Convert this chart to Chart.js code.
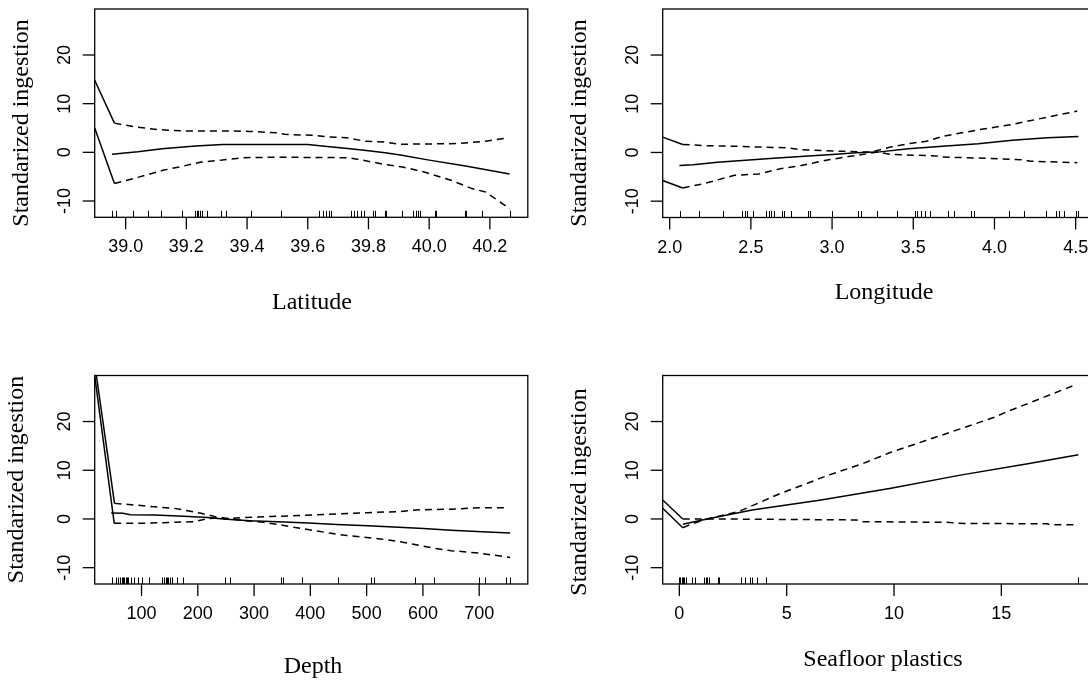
<!DOCTYPE html>
<html>
<head>
<meta charset="utf-8">
<title>GAM partial effects</title>
<script src="https://cdn.jsdelivr.net/npm/chart.js@4.4.1/dist/chart.umd.min.js"></script>
<style>
  html, body { margin: 0; padding: 0; background: #fff; overflow: hidden; }
  #page { position: relative; width: 1088px; height: 684px; overflow: hidden; background: #fff; }
  canvas { position: absolute; }
</style>
</head>
<body>
<div id="page">
  <canvas id="latCanvas" width="544" height="342" style="left:0px;top:0px"></canvas>
  <canvas id="lonCanvas" width="560" height="342" style="left:544px;top:0px"></canvas>
  <canvas id="depCanvas" width="544" height="342" style="left:0px;top:342px"></canvas>
  <canvas id="sfCanvas" width="560" height="342" style="left:544px;top:342px"></canvas>
</div>
<script>
// shared y axis
var yTicks = [-10, 0, 10, 20];
var yTickLabels = ['-10', '0', '10', '20'];
var yTitle = 'Standarized ingestion';

// Latitude
var latTicks = [39.0, 39.2, 39.4, 39.6, 39.8, 40.0, 40.2];
var latTickLabels = ['39.0', '39.2', '39.4', '39.6', '39.8', '40.0', '40.2'];
var latFitX = [38.955, 39.04, 39.12, 39.23, 39.32, 39.60, 39.68, 39.74, 39.80, 39.855, 39.91, 40.0, 40.12, 40.265];
var latFitY = [-0.4, 0.1, 0.75, 1.3, 1.6, 1.6, 1.1, 0.75, 0.3, -0.1, -0.6, -1.6, -2.8, -4.45];
var latUpX = [38.898, 38.963, 39.032, 39.112, 39.192, 39.318, 39.409, 39.50, 39.523, 39.615, 39.672, 39.729, 39.786, 39.855, 39.90, 40.095, 40.186, 40.262];
var latUpY = [14.8, 6.0, 5.2, 4.65, 4.4, 4.4, 4.3, 4.0, 3.7, 3.5, 3.15, 3.0, 2.3, 2.1, 1.65, 1.8, 2.3, 3.0];
var latLoX = [38.898, 38.963, 39.043, 39.123, 39.192, 39.249, 39.318, 39.386, 39.50, 39.729, 39.763, 39.821, 39.855, 39.912, 39.981, 40.072, 40.141, 40.186, 40.266];
var latLoY = [5.0, -6.4, -5.1, -3.7, -2.8, -2.0, -1.6, -1.1, -1.0, -1.1, -1.4, -2.1, -2.5, -3.0, -4.0, -5.75, -7.45, -8.15, -11.6];
var latRug = [38.954, 38.967, 39.025, 39.072, 39.115, 39.186, 39.230, 39.234, 39.240, 39.246, 39.251, 39.269, 39.315, 39.329, 39.413, 39.512, 39.638, 39.649, 39.661, 39.670, 39.678, 39.743, 39.752, 39.763, 39.777, 39.786, 39.815, 39.821, 39.855, 39.858, 39.912, 39.946, 39.958, 39.963, 39.971, 40.018, 40.024, 40.118, 40.123, 40.175, 40.266];

// Longitude
var lonTicks = [2.0, 2.5, 3.0, 3.5, 4.0, 4.5];
var lonTickLabels = ['2.0', '2.5', '3.0', '3.5', '4.0', '4.5'];
var lonFitX = [2.06, 2.145, 2.295, 2.51, 2.64, 2.83, 3.0, 3.15, 3.28, 3.47, 3.68, 3.90, 4.11, 4.325, 4.517];
var lonFitY = [-2.67, -2.5, -2.0, -1.5, -1.2, -0.8, -0.4, -0.07, 0.07, 0.75, 1.3, 1.8, 2.5, 3.0, 3.3];
var lonUpX = [1.957, 2.08, 2.21, 2.42, 2.72, 2.81, 3.04, 3.235, 3.36, 3.49, 3.58, 3.68, 3.90, 4.11, 4.325, 4.51];
var lonUpY = [3.15, 1.65, 1.4, 1.25, 0.95, 0.55, 0.27, 0.07, 1.1, 1.9, 2.3, 3.3, 4.65, 5.75, 7.25, 8.5];
var lonLoX = [1.957, 2.08, 2.21, 2.40, 2.55, 2.68, 2.81, 2.98, 3.11, 3.28, 3.36, 3.64, 3.68, 3.90, 4.175, 4.22, 4.51];
var lonLoY = [-5.75, -7.3, -6.4, -4.7, -4.4, -3.35, -2.67, -1.5, -0.8, 0.07, -0.4, -0.7, -0.95, -1.15, -1.5, -1.8, -2.1];
var lonRug = [2.062, 2.182, 2.331, 2.446, 2.461, 2.475, 2.512, 2.591, 2.612, 2.622, 2.640, 2.692, 2.707, 2.748, 2.853, 2.862, 2.998, 3.157, 3.178, 3.277, 3.401, 3.508, 3.525, 3.550, 3.570, 3.603, 3.716, 3.748, 3.855, 3.872, 4.09, 4.18, 4.32, 4.38, 4.40, 4.43, 4.504, 4.516];

// Depth
var depTicks = [100, 200, 300, 400, 500, 600, 700];
var depTickLabels = ['100', '200', '300', '400', '500', '600', '700'];
var depFitX = [46, 67, 80, 123, 175, 218, 245, 292, 342, 397, 447, 502, 557, 601, 650, 705, 755];
var depFitY = [1.2, 1.15, 0.85, 0.8, 0.55, 0.3, 0.0, -0.35, -0.55, -0.85, -1.15, -1.4, -1.7, -1.95, -2.3, -2.6, -2.9];
var depUpX = [19.8, 52, 95, 132, 157, 175, 206, 231, 249, 280, 329, 379, 434, 502, 557, 588, 650, 699, 749];
var depUpY = [29.45, 3.2, 2.8, 2.4, 2.2, 1.84, 1.16, 0.48, 0.0, 0.3, 0.5, 0.7, 0.95, 1.3, 1.5, 1.85, 2.0, 2.3, 2.3];
var depLoX = [16.8, 51.5, 95, 157, 194, 218, 243, 280, 317, 342, 373, 403, 434, 465, 527, 557, 588, 619, 650, 699, 755];
var depLoY = [29.45, -0.9, -0.9, -0.7, -0.55, 0.1, 0.25, -0.3, -0.7, -1.1, -1.75, -2.3, -2.9, -3.4, -4.15, -4.6, -5.3, -6.0, -6.5, -7.0, -7.9];
var depRug = [46.9, 54, 58.6, 62.2, 64.6, 67, 69.2, 71.7, 74, 76.4, 81.2, 87, 94.1, 100.2, 113.2, 136.8, 140.3, 142.8, 145.1, 147.4, 149.9, 154.6, 162.4, 173, 249, 256.6, 347.9, 351, 386, 448.4, 508.2, 513.1, 585.3, 619.2, 699.3, 709.8, 747.4, 754.8];

// Seafloor plastics
var sfTicks = [0, 5, 10, 15];
var sfTickLabels = ['0', '5', '10', '15'];
var sfFitX = [0.16, 1.29, 3.39, 6.6, 9.86, 13.09, 16.3, 18.59];
var sfFitY = [-1.1, 0.0, 1.84, 3.9, 6.3, 9.0, 11.4, 13.2];
var sfUpX = [-0.776, 0.16, 0.65, 1.29, 2.75, 4.69, 6.95, 8.57, 9.86, 11.48, 13.09, 14.7, 15.2, 18.43];
var sfUpY = [2.2, -1.8, -0.9, 0.0, 1.5, 5.2, 9.0, 11.4, 13.7, 16.1, 18.5, 20.9, 21.9, 27.5];
var sfLoX = [-0.776, 0.16, 1.78, 8.24, 8.57, 12.6, 12.93, 17.13, 17.3, 18.43];
var sfLoY = [3.9, 0.0, 0.0, -0.2, -0.55, -0.7, -0.9, -1.0, -1.2, -1.2];
var sfRug = [0, 0.05, 0.1, 0.16, 0.23, 0.29, 0.57, 0.73, 1.13, 1.23, 1.29, 1.36, 1.78, 1.86, 2.88, 3.07, 3.27, 3.39, 3.64, 4.04, 18.56];

var DASH = [7, 5];

function toPoints(xs, ys) {
  var pts = [];
  for (var i = 0; i < xs.length; i++) pts.push({ x: xs[i], y: ys[i] });
  return pts;
}

function lineSet(xs, ys, dashed) {
  var ds = {
    data: toPoints(xs, ys),
    borderColor: '#000',
    borderWidth: 1.5,
    pointRadius: 0,
    tension: 0,
    fill: false
  };
  if (dashed) {
    ds.borderDash = DASH;
    // first piece (from the box edge) is drawn solid
    ds.segment = {
      borderDash: function(c) { return c.p0DataIndex === 0 ? [] : DASH; }
    };
  }
  return ds;
}

// draws the R-like frame: box, axes, tick labels, rug and titles
function framePlugin(p) {
  return {
    id: 'frame',
    afterDraw: function(chart) {
      var ctx = chart.ctx, a = chart.chartArea;
      var xs = chart.scales.x, ys = chart.scales.y;
      ctx.save();
      ctx.strokeStyle = '#000';
      ctx.fillStyle = '#000';
      ctx.lineWidth = 1.3;
      ctx.strokeRect(a.left, a.top, a.right - a.left, a.bottom - a.top);

      ctx.font = '18px "Liberation Sans", Arial, sans-serif';
      ctx.textAlign = 'center';
      ctx.textBaseline = 'alphabetic';
      p.xTicks.forEach(function(v, i) {
        var px = xs.getPixelForValue(v);
        ctx.beginPath();
        ctx.moveTo(px, a.bottom);
        ctx.lineTo(px, a.bottom + 12);
        ctx.stroke();
        ctx.fillText(p.xLabels[i], px, a.bottom + 35);
      });
      yTicks.forEach(function(v, i) {
        var py = ys.getPixelForValue(v);
        ctx.beginPath();
        ctx.moveTo(a.left - 12, py);
        ctx.lineTo(a.left, py);
        ctx.stroke();
        ctx.save();
        ctx.translate(a.left - 24.5, py);
        ctx.rotate(-Math.PI / 2);
        ctx.fillText(yTickLabels[i], 0, 0);
        ctx.restore();
      });

      ctx.lineWidth = 1;
      p.rug.forEach(function(v) {
        var px = Math.round(xs.getPixelForValue(v)) + 0.5;
        ctx.beginPath();
        ctx.moveTo(px, a.bottom);
        ctx.lineTo(px, a.bottom - 6.5);
        ctx.stroke();
      });

      ctx.font = '24px "Liberation Serif", "Times New Roman", serif';
      ctx.fillText(p.xTitle, p.xTitleAt[0], p.xTitleAt[1]);
      ctx.save();
      ctx.translate(p.yTitleAt[0], p.yTitleAt[1]);
      ctx.rotate(-Math.PI / 2);
      ctx.fillText(yTitle, 0, 0);
      ctx.restore();
      ctx.restore();
    }
  };
}

function makePanel(id, p) {
  return new Chart(document.getElementById(id), {
    type: 'line',
    data: {
      datasets: [
        lineSet(p.fitX, p.fitY, false),
        lineSet(p.upX, p.upY, true),
        lineSet(p.loX, p.loY, true)
      ]
    },
    options: {
      responsive: false,
      animation: false,
      devicePixelRatio: 1,
      layout: { padding: p.pad },
      plugins: { legend: { display: false }, tooltip: { enabled: false } },
      scales: {
        x: { type: 'linear', display: false, min: p.xMin, max: p.xMax },
        y: { type: 'linear', display: false, min: -13.35, max: 29.45 }
      }
    },
    plugins: [framePlugin(p)]
  });
}

makePanel('latCanvas', {
  fitX: latFitX, fitY: latFitY, upX: latUpX, upY: latUpY, loX: latLoX, loY: latLoY,
  rug: latRug, xTicks: latTicks, xLabels: latTickLabels, xMin: 38.898, xMax: 40.325,
  xTitle: 'Latitude', xTitleAt: [312, 309], yTitleAt: [28, 123],
  pad: { left: 94.7, top: 9, right: 16.2, bottom: 124.7 }
});

makePanel('lonCanvas', {
  fitX: lonFitX, fitY: lonFitY, upX: lonUpX, upY: lonUpY, loX: lonLoX, loY: lonLoY,
  rug: lonRug, xTicks: lonTicks, xLabels: lonTickLabels, xMin: 1.957, xMax: 4.624,
  xTitle: 'Longitude', xTitleAt: [340, 299], yTitleAt: [41.6, 123],
  pad: { left: 118.7, top: 9, right: 8.2, bottom: 124.5 }
});

makePanel('depCanvas', {
  fitX: depFitX, fitY: depFitY, upX: depUpX, upY: depUpY, loX: depLoX, loY: depLoY,
  rug: depRug, xTicks: depTicks, xLabels: depTickLabels, xMin: 16.8, xMax: 786.4,
  xTitle: 'Depth', xTitleAt: [313, 331], yTitleAt: [23, 137.5],
  pad: { left: 94.7, top: 33.5, right: 16.2, bottom: 100 }
});

makePanel('sfCanvas', {
  fitX: sfFitX, fitY: sfFitY, upX: sfUpX, upY: sfUpY, loX: sfLoX, loY: sfLoY,
  rug: sfRug, xTicks: sfTicks, xLabels: sfTickLabels, xMin: -0.776, xMax: 19.4,
  xTitle: 'Seafloor plastics', xTitleAt: [339, 324], yTitleAt: [41.6, 150],
  pad: { left: 118.7, top: 33.5, right: 8.2, bottom: 100 }
});
</script>
</body>
</html>
